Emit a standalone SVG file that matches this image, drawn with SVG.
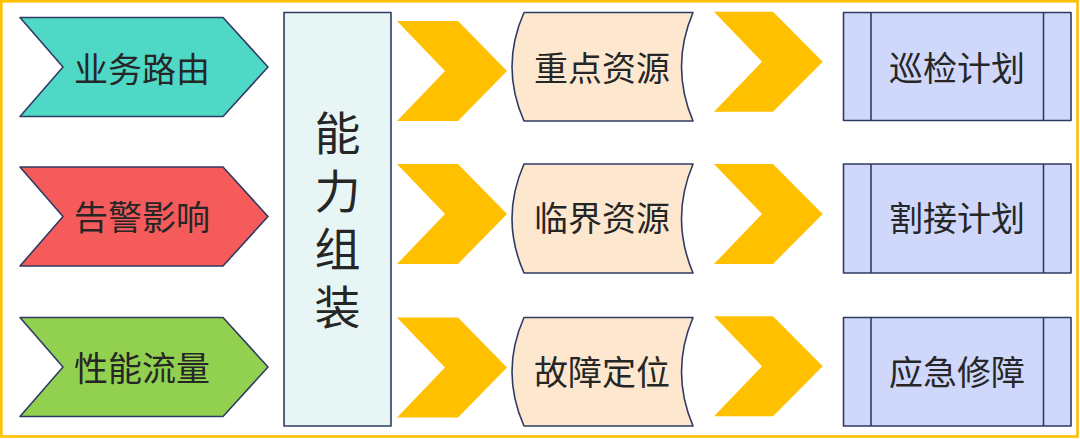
<svg xmlns="http://www.w3.org/2000/svg" width="1080" height="439" viewBox="0 0 1080 439">
  <style>
    .t { font-family: "Noto Sans CJK SC", "Noto Sans", sans-serif; font-size: 34px; fill: #262626; text-anchor: middle; dominant-baseline: central; }
    .vert { font-family: "Noto Sans CJK SC", "Noto Sans", sans-serif; font-size: 46px; fill: #262626; writing-mode: vertical-rl; text-orientation: upright; letter-spacing: 12px; text-anchor: start; }
    .edge { stroke: #2f3b63; stroke-width: 1.6; stroke-linejoin: round; }
    .chev { fill: #FFC000; stroke: none; }
    .tape { fill: #fde8cf; }
    .proc { fill: #cfd7fb; }
    .in1 { fill: #4fd8c6; }
    .in2 { fill: #f65b5b; }
    .in3 { fill: #92d050; }
  </style>
  <rect x="0" y="0" width="1080" height="439" fill="#ffffff"/>
  <rect x="1.3" y="1.3" width="1076.2" height="435.2" fill="none" stroke="#FFC000" stroke-width="2.6"/>

  <g id="in-route">
    <path class="edge in1" d="M20,17.5 L223,17.5 L268,67 L223,116.5 L20,116.5 L63,67 Z"/>
    <text class="t" x="142" y="67">业务路由</text>
  </g>
  <g id="in-alarm">
    <path class="edge in2" d="M20,167 L223,167 L268,216.5 L223,266 L20,266 L63,216.5 Z"/>
    <text class="t" x="142" y="215">告警影响</text>
  </g>
  <g id="in-perf">
    <path class="edge in3" d="M20,317.5 L223,317.5 L268,367 L223,416.5 L20,416.5 L63,367 Z"/>
    <text class="t" x="142" y="366.5">性能流量</text>
  </g>

  <g id="assemble">
    <rect class="edge" x="284" y="12.5" width="107" height="413.5" fill="#e7f6f4"/>
    <text class="vert" x="337.5" y="109.5">能力组装</text>
  </g>

  <g id="connectors">
    <path class="chev" d="M397,21 L458,21 L507,71 L458,121 L397,121 L445,71 Z"/>
    <path class="chev" d="M397,164 L458,164 L507,214 L458,264 L397,264 L445,214 Z"/>
    <path class="chev" d="M397,317.5 L458,317.5 L507,367.5 L458,417.5 L397,417.5 L445,367.5 Z"/>
    <path class="chev" d="M714,11.7 L773,11.7 L822.7,61.7 L773,111.7 L714,111.7 L762,61.7 Z"/>
    <path class="chev" d="M714,164 L773,164 L822.7,214 L773,264 L714,264 L762,214 Z"/>
    <path class="chev" d="M714,316.3 L773,316.3 L822.7,366.3 L773,416.3 L714,416.3 L762,366.3 Z"/>
  </g>

  <g id="res-key">
    <path class="edge tape" d="M524,12.5 L693,12.5 Q670,66.8 693,121 L524,121 Q500,66.8 524,12.5 Z"/>
    <text class="t" x="602" y="66">重点资源</text>
  </g>
  <g id="res-critical">
    <path class="edge tape" d="M524,164 L693,164 Q670,218.5 693,273 L524,273 Q500,218.5 524,164 Z"/>
    <text class="t" x="602" y="216">临界资源</text>
  </g>
  <g id="res-fault">
    <path class="edge tape" d="M524,317.5 L693,317.5 Q670,371.8 693,426 L524,426 Q500,371.8 524,317.5 Z"/>
    <text class="t" x="602" y="370">故障定位</text>
  </g>

  <g id="plan-inspect">
    <rect class="edge proc" x="843.5" y="12.5" width="227.5" height="108"/>
    <line class="edge" x1="871" y1="12.5" x2="871" y2="120.5"/>
    <line class="edge" x1="1043.5" y1="12.5" x2="1043.5" y2="120.5"/>
    <text class="t" x="957" y="66">巡检计划</text>
  </g>
  <g id="plan-cutover">
    <rect class="edge proc" x="843.5" y="164" width="227.5" height="109"/>
    <line class="edge" x1="871" y1="164" x2="871" y2="273"/>
    <line class="edge" x1="1043.5" y1="164" x2="1043.5" y2="273"/>
    <text class="t" x="957" y="216">割接计划</text>
  </g>
  <g id="plan-repair">
    <rect class="edge proc" x="843.5" y="317.5" width="227.5" height="108.5"/>
    <line class="edge" x1="871" y1="317.5" x2="871" y2="426"/>
    <line class="edge" x1="1043.5" y1="317.5" x2="1043.5" y2="426"/>
    <text class="t" x="957" y="370">应急修障</text>
  </g>
</svg>
